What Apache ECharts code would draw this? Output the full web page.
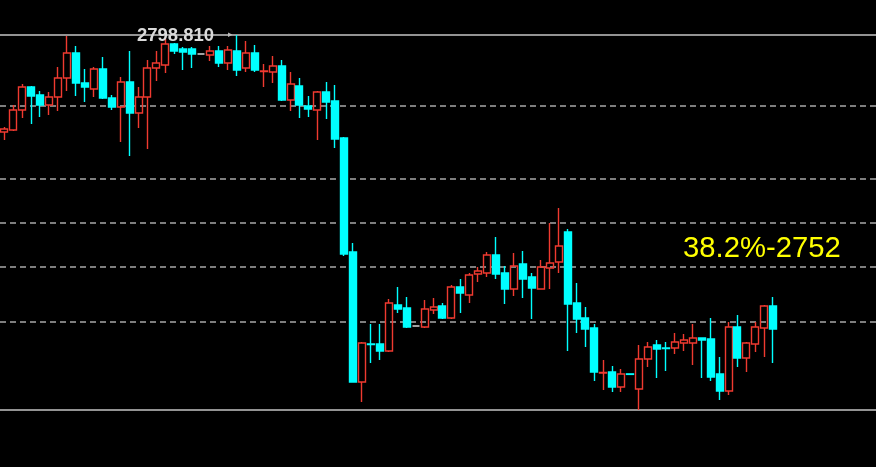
<!DOCTYPE html>
<html>
<head>
<meta charset="utf-8">
<script src="https://cdn.jsdelivr.net/npm/echarts@6/dist/echarts.min.js"></script>
<style>
html,body{margin:0;padding:0;background:#000;}
#chart{width:876px;height:467px;}
</style>
</head>
<body>
<div id="chart"></div>
<script>
// candle data: [open, close, low, high]
const ohlc = [
  [2779.21, 2779.82, 2777.59, 2780.22],
  [2779.61, 2783.66, 2779.41, 2784.67],
  [2783.66, 2788.31, 2782.04, 2788.92],
  [2788.31, 2786.49, 2780.83, 2788.51],
  [2786.69, 2784.67, 2782.24, 2787.50],
  [2784.67, 2786.29, 2782.65, 2787.30],
  [2786.29, 2790.13, 2783.46, 2792.35],
  [2790.13, 2795.18, 2787.50, 2798.60],
  [2795.18, 2789.12, 2786.49, 2796.60],
  [2789.12, 2788.31, 2785.28, 2791.95],
  [2787.91, 2791.95, 2786.29, 2792.35],
  [2791.95, 2786.08, 2785.88, 2794.38],
  [2786.08, 2784.27, 2783.66, 2786.69],
  [2784.27, 2789.32, 2777.19, 2790.33],
  [2789.32, 2783.05, 2774.36, 2795.59],
  [2783.05, 2786.29, 2780.02, 2788.31],
  [2786.29, 2792.15, 2775.77, 2793.77],
  [2792.15, 2793.16, 2789.52, 2795.59],
  [2792.76, 2797.00, 2791.14, 2798.02],
  [2797.00, 2795.59, 2794.98, 2797.21],
  [2795.99, 2795.39, 2791.75, 2796.40],
  [2795.99, 2794.98, 2792.15, 2796.40],
  [2794.98, 2794.98, 2794.98, 2794.98],
  [2794.78, 2795.59, 2793.57, 2796.60],
  [2795.59, 2793.16, 2792.35, 2796.60],
  [2793.16, 2795.79, 2791.75, 2796.60],
  [2795.59, 2791.75, 2790.53, 2798.81],
  [2792.15, 2795.18, 2791.34, 2797.61],
  [2795.18, 2791.75, 2791.34, 2796.80],
  [2791.44, 2791.55, 2788.31, 2792.96],
  [2791.34, 2792.56, 2789.12, 2794.58],
  [2792.56, 2785.68, 2785.48, 2793.77],
  [2785.68, 2788.92, 2783.46, 2791.34],
  [2788.51, 2784.67, 2782.04, 2790.13],
  [2784.47, 2783.86, 2782.24, 2786.49],
  [2783.66, 2787.30, 2777.59, 2787.50],
  [2787.30, 2785.28, 2781.84, 2789.32],
  [2785.48, 2777.80, 2775.98, 2788.71],
  [2778.00, 2754.54, 2754.14, 2778.20],
  [2754.95, 2728.66, 2728.66, 2756.77],
  [2728.66, 2736.55, 2724.62, 2736.75],
  [2736.34, 2736.24, 2732.50, 2740.39],
  [2736.34, 2734.93, 2733.11, 2740.39],
  [2734.93, 2744.63, 2734.73, 2745.44],
  [2744.23, 2743.42, 2742.61, 2747.87],
  [2743.62, 2739.78, 2739.58, 2745.85],
  [2739.98, 2739.98, 2739.98, 2739.98],
  [2739.78, 2743.42, 2739.58, 2745.24],
  [2743.22, 2743.83, 2742.41, 2745.64],
  [2744.03, 2741.60, 2741.40, 2744.63],
  [2741.60, 2747.87, 2741.40, 2748.27],
  [2747.87, 2746.66, 2742.61, 2749.49],
  [2746.25, 2750.30, 2744.63, 2750.70],
  [2750.50, 2751.10, 2748.88, 2751.91],
  [2750.70, 2754.34, 2749.89, 2754.95],
  [2754.34, 2750.50, 2749.49, 2757.98],
  [2750.70, 2747.46, 2744.43, 2752.12],
  [2747.46, 2752.12, 2746.05, 2754.75],
  [2752.52, 2749.49, 2745.64, 2755.15],
  [2749.89, 2747.67, 2741.40, 2750.70],
  [2747.46, 2751.91, 2747.46, 2753.33],
  [2751.71, 2752.72, 2747.46, 2760.81],
  [2752.92, 2756.16, 2750.70, 2763.84],
  [2758.99, 2744.43, 2734.93, 2759.60],
  [2744.63, 2741.40, 2738.57, 2748.68],
  [2741.60, 2739.38, 2735.74, 2743.83],
  [2739.58, 2730.68, 2728.86, 2740.39],
  [2730.48, 2730.58, 2727.04, 2733.11],
  [2730.68, 2727.65, 2726.64, 2731.90],
  [2727.65, 2730.28, 2726.64, 2731.29],
  [2730.30, 2730.20, 2730.20, 2730.30],
  [2727.25, 2733.31, 2723.00, 2736.14],
  [2733.31, 2735.74, 2731.69, 2736.75],
  [2736.14, 2735.33, 2729.47, 2737.15],
  [2735.54, 2735.44, 2730.89, 2736.75],
  [2735.54, 2736.75, 2734.32, 2738.57],
  [2736.55, 2737.15, 2734.93, 2738.37],
  [2736.55, 2737.56, 2732.10, 2740.39],
  [2737.56, 2737.15, 2729.47, 2737.56],
  [2737.35, 2729.67, 2728.86, 2741.60],
  [2730.28, 2726.84, 2725.02, 2733.72],
  [2726.84, 2739.78, 2726.03, 2740.79],
  [2739.78, 2733.51, 2731.69, 2742.21],
  [2733.51, 2736.55, 2730.68, 2736.75],
  [2736.34, 2739.78, 2734.73, 2740.79],
  [2739.58, 2744.03, 2733.72, 2744.23],
  [2744.03, 2739.38, 2732.50, 2745.85]
];
// bar slots (includes empty space to the right of the last candle)
const barSlots = Array.from({length: 98}, (_, i) => String(i + 1));
// Fibonacci retracement levels
const fibSolid = [2723.00, 2798.81];
const fibDashed = [2740.89, 2751.96, 2760.91, 2769.85, 2784.57];
const highLabel = '2798.810';
const levelLabel = '38.2%-2752';

const chart = echarts.init(document.getElementById('chart'));
const lineData = [];
fibSolid.forEach(v => lineData.push({yAxis: v, lineStyle: {color: '#c4c4c4', width: 1.5, type: 'solid'}}));
fibDashed.forEach(v => lineData.push({yAxis: v, lineStyle: {color: '#a8a8a8', width: 1.5, type: [6, 4]}}));

chart.setOption({
  backgroundColor: '#000',
  animation: false,
  grid: {left: -3.8, right: -2.2, top: 35, bottom: 57, containLabel: false},
  xAxis: {type: 'category', data: barSlots, show: false, boundaryGap: true},
  yAxis: {type: 'value', min: 2723.0, max: 2798.82, show: false, splitLine: {show: false}},
  series: [{
    type: 'candlestick',
    data: ohlc,
    barWidth: 7.5,
    z: 2,
    clip: false,
    itemStyle: {
      color: 'rgba(0,0,0,0)',
      color0: '#00ffff',
      borderColor: '#f03a30',
      borderColor0: '#00ffff',
      borderColorDoji: '#d8d8d8',
      borderWidth: 1.4
    },
    markLine: {
      silent: true,
      z: 1,
      symbol: ['none', 'none'],
      label: {show: false},
      data: lineData
    }
  }],
  graphic: [
    {type: 'text', x: 137, y: 35.5, z: 10, style: {text: highLabel, fill: '#dadada', font: 'bold 18.5px "Liberation Sans"', textVerticalAlign: 'middle'}},
    {type: 'text', x: 228, y: 35, z: 10, style: {text: '▸', fill: '#bdbdbd', font: '9px "DejaVu Sans"', textVerticalAlign: 'middle'}},
    {type: 'text', x: 683, y: 249, z: 10, scaleX: 0.975, style: {text: levelLabel, fill: '#ffff00', font: '30px "Liberation Sans"', textVerticalAlign: 'middle'}}
  ]
});
</script>
</body>
</html>
